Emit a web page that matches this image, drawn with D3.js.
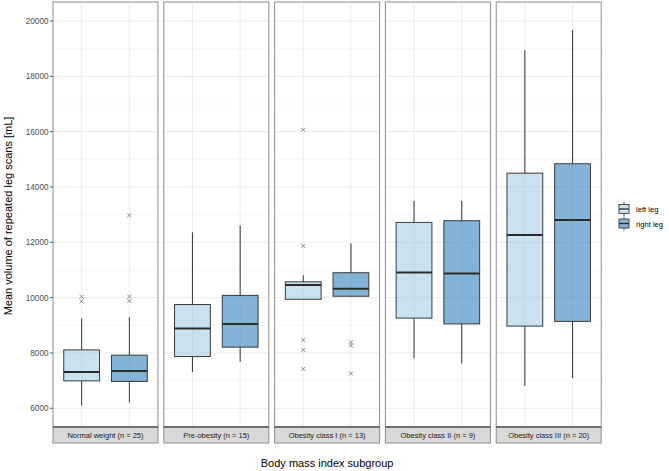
<!DOCTYPE html>
<html><head><meta charset="utf-8">
<script src="https://cdn.jsdelivr.net/npm/d3@7"></script>
<style>body{margin:0;background:#fff}svg{display:block;font-family:"Liberation Sans",Arial,Helvetica,sans-serif}</style>
</head><body><svg id="c" width="669" height="471"></svg>
<script>
const groups = ["Normal weight (n = 25)","Pre-obesity (n = 15)","Obesity class I (n = 13)","Obesity class II (n = 9)","Obesity class III (n = 20)"];
const legs = ["left leg","right leg"];
// [whisker low, Q1, median, Q3, whisker high]
const leftStats = [
  [6100, 6990, 7310, 8110, 9250],
  [7310, 7870, 8880, 9750, 12360],
  [9940, 9940, 10460, 10570, 10810],
  [7800, 9260, 10910, 12720, 13500],
  [6810, 8970, 12260, 14500, 18950]
];
const rightStats = [
  [6210, 6970, 7350, 7920, 9290],
  [7680, 8210, 9050, 10080, 12610],
  [10050, 10050, 10320, 10900, 11960],
  [7620, 9050, 10870, 12780, 13500],
  [7090, 9140, 12810, 14840, 19680]
];
const leftOutliers = [[10030, 9860], [], [16070, 11870, 8460, 8110, 7420], [], []];
const rightOutliers = [[12980, 10040, 9880], [], [8380, 8270, 7260], [], []];
const yTicks = [6000, 8000, 10000, 12000, 14000, 16000, 18000, 20000];
const yMinor = [7000, 9000, 11000, 13000, 15000, 17000, 19000];

const svg = d3.select("#c");
const fills = ["#9ecae1", "#3182bd"];
const fillOp = [0.55, 0.6];
const panelTop = 2, panelBottom = 427, stripH = 16;
const panelX0 = 53, panelW = 105, gap = 5.8;

const y = d3.scaleLinear().domain([5323, 20687]).range([panelBottom, panelTop]);
// ggplot-like discrete: positions at 0.6 and 1.6 of 2.2 units
const xPos = d3.scalePoint().domain(legs).range([panelW*0.6/2.2, panelW*1.6/2.2]);
const boxW = panelW*0.75/2.2;

groups.forEach((g, i) => {
  const px = panelX0 + i*(panelW+gap);
  const p = svg.append("g").attr("transform", `translate(${px},0)`);
  p.append("rect").attr("x",0).attr("y",panelTop).attr("width",panelW).attr("height",panelBottom-panelTop).attr("fill","#fff");
  p.selectAll(".mn").data(yMinor).join("line").attr("x1",0).attr("x2",panelW)
    .attr("y1",d=>y(d)).attr("y2",d=>y(d)).attr("stroke","#f2f2f2").attr("stroke-width",0.6);
  p.selectAll(".mj").data(yTicks).join("line").attr("x1",0).attr("x2",panelW)
    .attr("y1",d=>y(d)).attr("y2",d=>y(d)).attr("stroke","#ebebeb").attr("stroke-width",1);
  p.selectAll(".vx").data(legs).join("line").attr("x1",d=>xPos(d)).attr("x2",d=>xPos(d))
    .attr("y1",panelTop).attr("y2",panelBottom).attr("stroke","#ebebeb").attr("stroke-width",1);

  [leftStats[i], rightStats[i]].forEach((s, k) => {
    const cx = xPos(legs[k]);
    p.append("line").attr("x1",cx).attr("x2",cx).attr("y1",y(s[3])).attr("y2",y(s[4])).attr("stroke","#333").attr("stroke-width",1);
    p.append("line").attr("x1",cx).attr("x2",cx).attr("y1",y(s[1])).attr("y2",y(s[0])).attr("stroke","#333").attr("stroke-width",1);
    p.append("rect").attr("x",cx-boxW/2).attr("width",boxW).attr("y",y(s[3])).attr("height",y(s[1])-y(s[3]))
      .attr("fill",fills[k]).attr("fill-opacity",fillOp[k]).attr("stroke","#3a3a3a").attr("stroke-width",1);
    p.append("line").attr("x1",cx-boxW/2).attr("x2",cx+boxW/2).attr("y1",y(s[2])).attr("y2",y(s[2])).attr("stroke","#2a2a2a").attr("stroke-width",2);
    const outs = k===0 ? leftOutliers[i] : rightOutliers[i];
    const sz = 2;
    outs.forEach(v => {
      p.append("path").attr("d",`M${cx-sz},${y(v)-sz}L${cx+sz},${y(v)+sz}M${cx-sz},${y(v)+sz}L${cx+sz},${y(v)-sz}`)
        .attr("stroke","#6e6e6e").attr("stroke-width",0.8).attr("fill","none");
    });
  });
  p.append("rect").attr("x",0).attr("y",panelTop).attr("width",panelW).attr("height",panelBottom-panelTop)
    .attr("fill","none").attr("stroke","#8c8c8c").attr("stroke-width",1);
  p.append("rect").attr("x",0).attr("y",panelBottom).attr("width",panelW).attr("height",stripH)
    .attr("fill","#d9d9d9").attr("stroke","#8c8c8c").attr("stroke-width",1);
  p.append("line").attr("x1",0).attr("x2",panelW).attr("y1",panelBottom).attr("y2",panelBottom).attr("stroke","#333").attr("stroke-width",1.1);
  p.append("text").attr("x",panelW/2).attr("y",panelBottom+stripH/2+2.7).attr("text-anchor","middle")
    .attr("font-size",7.5).attr("fill","#1a1a1a").text(g);
});

// y axis
const ya = svg.append("g");
yTicks.forEach(t => {
  ya.append("line").attr("x1",panelX0-3).attr("x2",panelX0).attr("y1",y(t)).attr("y2",y(t)).attr("stroke","#333").attr("stroke-width",0.8);
  ya.append("text").attr("x",panelX0-4.5).attr("y",y(t)+2.9).attr("text-anchor","end").attr("font-size",8.2).attr("fill","#4d4d4d").text(t);
});
svg.append("text").attr("transform",`translate(12,216) rotate(-90)`).attr("text-anchor","middle")
  .attr("font-size",11).attr("fill","#000").text("Mean volume of repeated leg scans [mL]");
const lastRight = panelX0 + 4*(panelW+gap) + panelW;
svg.append("text").attr("x",(panelX0+lastRight)/2).attr("y",467).attr("text-anchor","middle")
  .attr("font-size",11).attr("fill","#000").text("Body mass index subgroup");

// legend
const lg = svg.append("g").attr("transform","translate(617,202)");
legs.forEach((l,k) => {
  const gy = k*14.5;
  const kx = 7;
  lg.append("line").attr("x1",kx).attr("x2",kx).attr("y1",gy).attr("y2",gy+14).attr("stroke","#333").attr("stroke-width",0.8);
  lg.append("rect").attr("x",2).attr("y",gy+2.5).attr("width",10).attr("height",9).attr("fill","#fff");
  lg.append("rect").attr("x",2).attr("y",gy+2.5).attr("width",10).attr("height",9)
    .attr("fill",fills[k]).attr("fill-opacity",fillOp[k]).attr("stroke","#3a3a3a").attr("stroke-width",0.9);
  lg.append("line").attr("x1",2).attr("x2",12).attr("y1",gy+7).attr("y2",gy+7).attr("stroke","#2a2a2a").attr("stroke-width",1.3);
  lg.append("text").attr("x",19).attr("y",gy+10).attr("font-size",7.6).attr("fill","#000").text(l);
});
</script></body></html>
